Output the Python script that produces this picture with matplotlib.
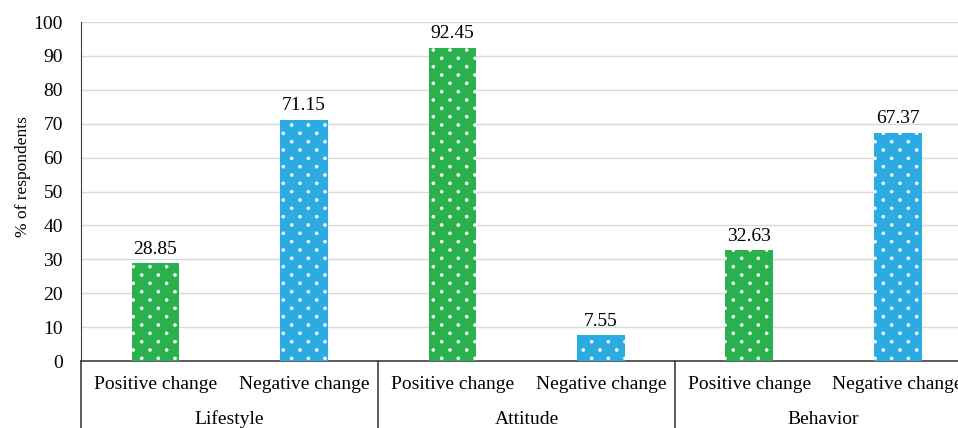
import matplotlib
matplotlib.use('Agg')
import matplotlib.pyplot as plt
import matplotlib.transforms as mtransforms
import matplotlib.hatch as mhatch
import numpy as np

plt.rcParams['font.family'] = ['Liberation Serif', 'DejaVu Serif']
plt.rcParams['hatch.linewidth'] = 0.4


# 点状填充：行距减半、同行点距不变的交错圆点
class StaggerDots(mhatch.SmallFilledCircles):
    size = 0.09

    def __init__(self, hatch, density):
        super().__init__(hatch, density)
        n = self.num_rows
        if n:
            shapes = (n + 1) * (n + 1) + n * n
            self.num_shapes = shapes
            self.num_vertices = shapes * len(self.shape_vertices)

    def set_vertices_and_codes(self, vertices, codes):
        n = self.num_rows
        offset = 1.0 / n
        shape = self.shape_vertices * offset * self.size
        vparts, cparts = [], []
        for row in range(2 * n + 1):
            if row % 2 == 0:
                cols = np.linspace(0, 1, n + 1)
            else:
                cols = np.linspace(offset / 2, 1 - offset / 2, n)
            y = row * offset / 2
            for c in cols:
                vparts.append(shape + [c, y])
                cparts.append(self.shape_codes)
        np.concatenate(vparts, out=vertices)
        np.concatenate(cparts, out=codes)


mhatch._hatch_types[mhatch._hatch_types.index(mhatch.SmallFilledCircles)] = StaggerDots

# 数据
groups = ['Lifestyle', 'Attitude', 'Behavior']
changes = ['Positive change', 'Negative change']
values = [28.85, 71.15, 92.45, 7.55, 32.63, 67.37]
bar_colors = ['#2AB04C', '#2AACE2']

fig = plt.figure(figsize=(9.58, 4.28), dpi=100)
ax = fig.add_axes([0.0846, 0.1565, 0.930, 0.792])

x = np.arange(len(values))
colors = [bar_colors[i % 2] for i in range(len(values))]
bars = ax.bar(x, values, width=0.32, color=colors, edgecolor='white',
              linewidth=0, hatch='.', zorder=3)

for b, v in zip(bars, values):
    ax.annotate(f'{v:.2f}', (b.get_x() + b.get_width() / 2, v),
                xytext=(0, 4), textcoords='offset points',
                ha='center', va='bottom', fontsize=14)

ax.set_xlim(-0.5, len(values) - 0.5)
ax.set_ylim(0, 100)
ax.set_yticks(np.arange(0, 101, 10))
ax.tick_params(axis='y', length=0, labelsize=14, pad=13)
ax.grid(axis='y', color='#D9D9D9', linewidth=1, zorder=0)
ax.set_ylabel('% of respondents', fontsize=12.5, labelpad=2, y=0.543)

for s in ['top', 'right']:
    ax.spines[s].set_visible(False)
ax.spines['left'].set_color('#404040')
ax.spines['bottom'].set_color('#404040')
ax.spines['bottom'].set_linewidth(1.2)

# 两级横轴标签
ax.set_xticks(x)
ax.set_xticklabels([changes[i % 2] for i in range(len(values))], fontsize=14)
ax.tick_params(axis='x', length=0, pad=11)

trans = mtransforms.blended_transform_factory(ax.transData, ax.transAxes)
for gi, g in enumerate(groups):
    ax.text(2 * gi + 0.5, -0.172, g, transform=trans, ha='center', va='center',
            fontsize=14)
for sep in np.arange(-0.5, len(values), 2):
    ax.plot([sep, sep], [0, -0.25], transform=trans, color='#404040',
            linewidth=1.2, clip_on=False)

fig.savefig('out.png', dpi=100)
